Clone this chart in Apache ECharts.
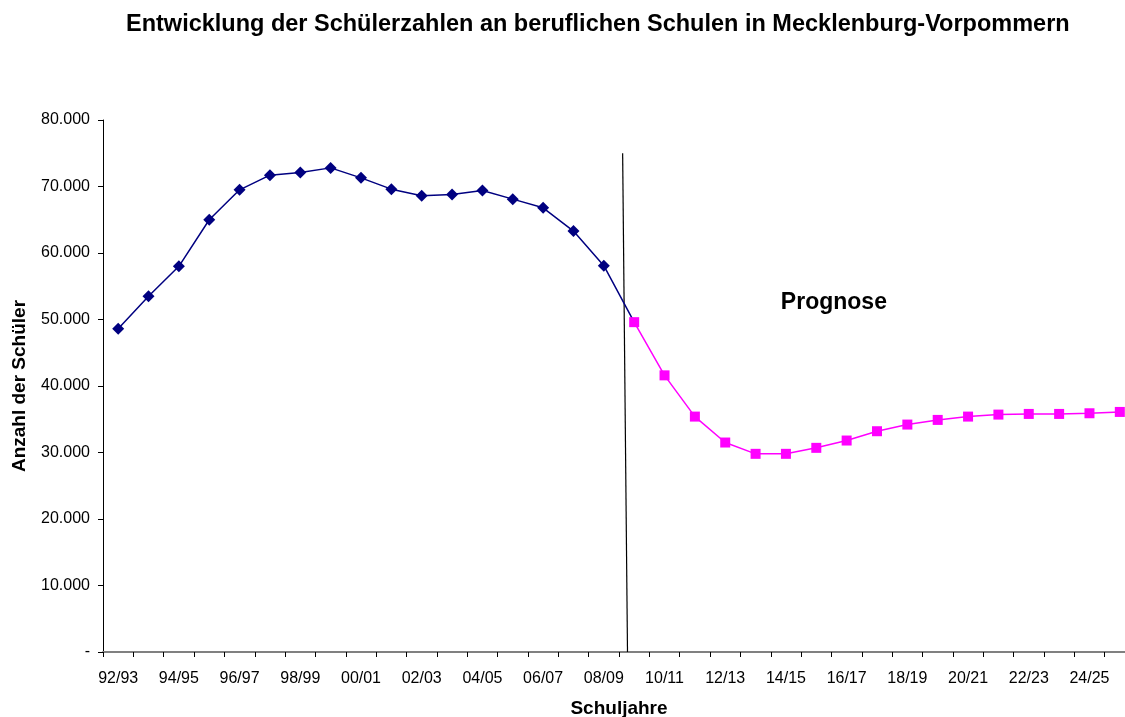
<!DOCTYPE html>
<html>
<head>
<meta charset="utf-8">
<script src="https://cdn.jsdelivr.net/npm/echarts@6/dist/echarts.min.js"></script>
<style>
  html, body { margin: 0; padding: 0; background: #fff; }
  #chart { width: 1125px; height: 717px; }
</style>
</head>
<body>
<div id="chart"></div>
<script>
// Schuljahre 92/93 .. 25/26
var years = ['92/93', '93/94', '94/95', '95/96', '96/97', '97/98', '98/99', '99/00', '00/01', '01/02',
  '02/03', '03/04', '04/05', '05/06', '06/07', '07/08', '08/09', '09/10', '10/11', '11/12',
  '12/13', '13/14', '14/15', '15/16', '16/17', '17/18', '18/19', '19/20', '20/21', '21/22',
  '22/23', '23/24', '24/25', '25/26'];

// Ist-Werte (bis 08/09), letzte Stelle verbindet mit der Prognose
var istWerte = [48600, 53500, 58000, 65000, 69500, 71700, 72100, 72800, 71300, 69600,
  68600, 68800, 69400, 68100, 66800, 63300, 58100, 49600];

// Prognose ab 09/10
var prognose = [49600, 41600, 35400, 31500, 29800, 29800, 30700, 31800, 33200, 34200,
  34900, 35400, 35700, 35800, 35800, 35900, 36100];

// Trennlinie zwischen Ist und Prognose (x als Kategorieindex)
var trennlinie = [[16.62, 75000], [16.78, 0]];
var prognoseLabel = [[23.58, 52500]];

var font = "'Liberation Sans', Arial, sans-serif";

var chart = echarts.init(document.getElementById('chart'));

// Verbindungspunkt zur Prognose ohne eigenes Symbol
var istData = istWerte.map(function (v, i) {
  return i === istWerte.length - 1 ? { value: v, symbol: 'none' } : v;
});

var option = {
  backgroundColor: '#fff',
  animation: false,
  title: {
    text: 'Entwicklung der Schülerzahlen an beruflichen Schulen in Mecklenburg-Vorpommern',
    left: 121,
    top: 8,
    textStyle: { fontFamily: font, fontSize: 23.5, fontWeight: 'bold', color: '#000' }
  },
  grid: { left: 103, top: 120, bottom: 65, right: -10, outerBoundsMode: 'none' },
  xAxis: [
    {
      type: 'category',
      data: years,
      boundaryGap: true,
      name: 'Schuljahre',
      nameLocation: 'middle',
      nameGap: 47,
      nameTextStyle: { fontFamily: font, fontSize: 19, fontWeight: 'bold', color: '#000' },
      axisLine: { lineStyle: { color: '#808080', width: 2 } },
      axisTick: { show: true, interval: 0, length: 5, lineStyle: { color: '#000' } },
      axisLabel: { interval: 1, margin: 19, fontFamily: font, fontSize: 16, color: '#000' },
      splitLine: { show: false }
    },
    {
      type: 'value',
      min: -0.5,
      max: 33.5,
      show: false
    }
  ],
  yAxis: {
    type: 'value',
    min: 0,
    max: 80000,
    interval: 10000,
    name: 'Anzahl der Schüler',
    nameLocation: 'middle',
    nameGap: 74,
    nameTextStyle: { fontFamily: font, fontSize: 19, fontWeight: 'bold', color: '#000' },
    axisLine: { show: true, onZero: false, lineStyle: { color: '#000', width: 1 } },
    axisTick: { show: true, length: 5, lineStyle: { color: '#000' } },
    axisLabel: {
      margin: 13,
      fontFamily: font,
      fontSize: 16,
      color: '#000',
      formatter: function (v) {
        if (v === 0) return '-';
        return String(v).replace(/\B(?=(\d{3})+(?!\d))/g, '.');
      }
    },
    splitLine: { show: false }
  },
  series: [
    {
      name: 'Ist',
      type: 'line',
      data: istData,
      symbol: 'diamond',
      symbolSize: 12,
      lineStyle: { color: '#000080', width: 1.5 },
      itemStyle: { color: '#000080' },
      z: 3
    },
    {
      name: 'Prognose',
      type: 'line',
      data: Array(17).fill('-').concat(prognose),
      symbol: 'rect',
      symbolSize: 10,
      lineStyle: { color: '#ff00ff', width: 1.5 },
      itemStyle: { color: '#ff00ff' },
      z: 4
    },
    {
      name: 'Trennlinie',
      type: 'line',
      xAxisIndex: 1,
      data: trennlinie,
      symbol: 'none',
      lineStyle: { color: '#000', width: 1.2 },
      z: 2
    },
    {
      name: 'Label',
      type: 'scatter',
      xAxisIndex: 1,
      data: prognoseLabel,
      symbolSize: 1,
      itemStyle: { opacity: 1, color: 'rgba(0,0,0,0)' },
      emphasis: { disabled: true },
      label: {
        show: true,
        position: 'inside',
        formatter: 'Prognose',
        fontFamily: font,
        fontSize: 23,
        fontWeight: 'bold',
        color: '#000'
      }
    }
  ]
};

option && chart.setOption(option);
</script>
</body>
</html>
